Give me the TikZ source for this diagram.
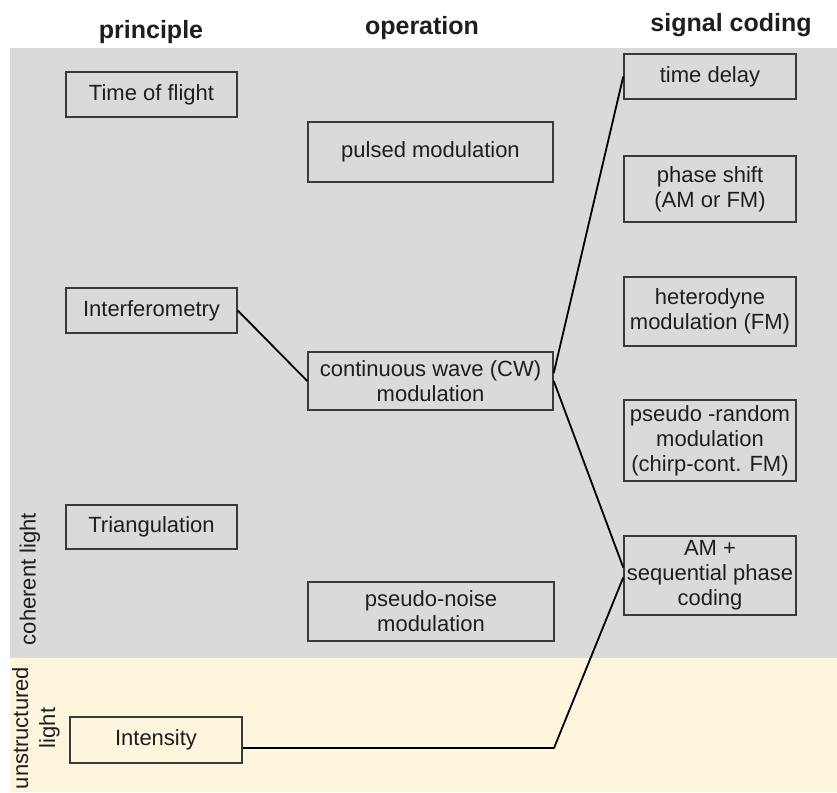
\documentclass[tikz,border=0pt]{standalone}
\usepackage{fontspec}
\setmainfont{Liberation Sans}
\definecolor{bandgray}{HTML}{D9DBDB}
\definecolor{bandcream}{HTML}{FDF6DC}
\definecolor{boxline}{HTML}{3A3A3A}
\definecolor{ink}{HTML}{1E1E1E}
\tikzset{
  box/.style={draw=boxline, line width=1.5pt, inner sep=0pt, align=center,
    text=ink, font=\fontsize{22}{25}\selectfont},
  header/.style={text=ink, font=\bfseries\fontsize{25}{28}\selectfont, inner sep=0pt},
  sidelabel/.style={text=ink, rotate=90, align=center, inner sep=0pt,
    font=\fontsize{22}{27}\selectfont},
  link/.style={draw=black, line width=1.8pt, line join=round}
}
\begin{document}
\begin{tikzpicture}[x=1pt, y=-1pt]
  \useasboundingbox (0,0) rectangle (837,792);
  % background bands
  \fill[bandgray] (10,48) rectangle (837,658);
  \fill[bandcream] (10,658) rectangle (837,792);

  % column headers
  \node[header] (hprin) at (151,32) {principle};
  \node[header] (hoper) at (422,28) {operation};
  \node[header] (hsig)  at (731,25) {signal coding};

  % band labels
  \node[sidelabel] (lcoh) at (30,579) {coherent light};
  \node[sidelabel] (lunst) at (36,728) {unstructured\\light};

  % principle column
  \node[box, minimum width=171pt, minimum height=45pt] (tof)    at (151.5,94.5) {Time of flight};
  \node[box, minimum width=171pt, minimum height=45pt] (interf) at (151.5,310.5) {Interferometry};
  \node[box, minimum width=171pt, minimum height=44pt] (tri)    at (151.5,527) {Triangulation};
  \node[box, minimum width=172pt, minimum height=46pt] (inten)  at (156,740) {Intensity};

  % operation column
  \node[box, minimum width=245pt, minimum height=60pt] (pulsed) at (430.5,152) {pulsed modulation};
  \node[box, minimum width=245pt, minimum height=58pt] (cw)     at (430.5,381) {continuous wave (CW)\\modulation};
  \node[box, minimum width=246pt, minimum height=59pt] (pn)     at (431,611.5) {pseudo-noise\\modulation};

  % signal coding column
  \node[box, minimum width=172pt, minimum height=45pt] (td)  at (710,76.5) {time delay};
  \node[box, minimum width=172pt, minimum height=66pt] (ps)  at (710,189) {phase shift\\(AM or FM)};
  \node[box, minimum width=172pt, minimum height=69pt] (het) at (710,311.5) {heterodyne\\modulation (FM)};
  \node[box, minimum width=172pt, minimum height=81pt] (pr)  at (710,440.5) {pseudo -random\\modulation\\(chirp-cont. FM)};
  \node[box, minimum width=172pt, minimum height=79pt] (am)  at (710,575.5) {AM +\\sequential phase\\coding};

  % connectors
  \draw[link] (interf.east) -- (cw.west);
  \draw[link] ([yshift=8pt]cw.east) -- (td.west);
  \draw[link] (cw.east) -- ([yshift=8pt]am.west);
  \coordinate (bend) at (554,748);
  \draw[link] ([yshift=-8pt]inten.east) -- (bend) -- ([yshift=-2pt]am.west);
\end{tikzpicture}
\end{document}
